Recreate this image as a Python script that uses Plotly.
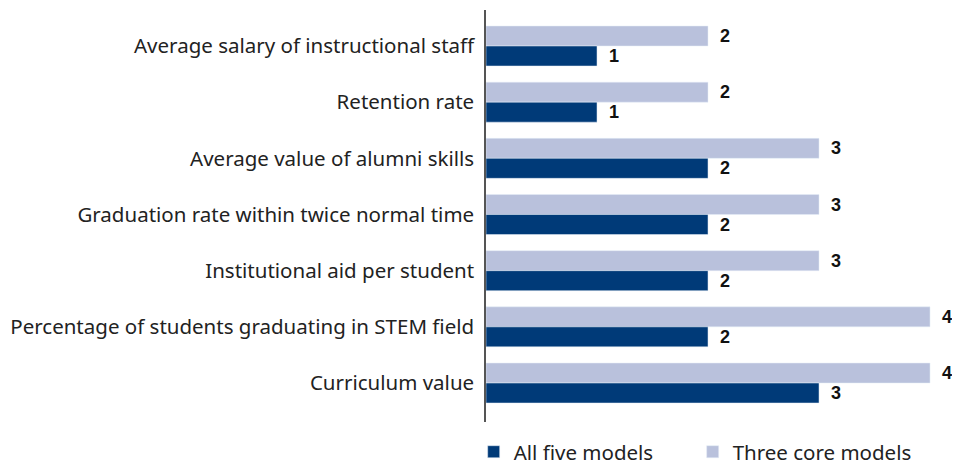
import plotly.graph_objects as go

categories = [
    "Average salary of instructional staff",
    "Retention rate",
    "Average value of alumni skills",
    "Graduation rate within twice normal time",
    "Institutional aid per student",
    "Percentage of students graduating in STEM field",
    "Curriculum value",
]
three_core = [2, 2, 3, 3, 3, 4, 4]
all_five = [1, 1, 2, 2, 2, 2, 3]

label_font = dict(family="Liberation Sans", size=18, color="#111111")

fig = go.Figure()

# light bars sit on top of each pair (axis is reversed)
fig.add_trace(go.Bar(
    y=categories, x=three_core, orientation="h", name="Three core models",
    marker_color="#B9C1DC", legendrank=2,
))
fig.add_trace(go.Bar(
    y=categories, x=all_five, orientation="h", name="All five models",
    marker_color="#003A78", legendrank=1,
))

# value labels next to the bar ends
for cat, v in zip(categories, three_core):
    fig.add_annotation(x=v, y=cat, text=f"<b>{v}</b>", showarrow=False,
                       xanchor="left", xshift=10, yshift=10, font=label_font)
for cat, v in zip(categories, all_five):
    fig.add_annotation(x=v, y=cat, text=f"<b>{v}</b>", showarrow=False,
                       xanchor="left", xshift=10, yshift=-10, font=label_font)

fig.update_layout(
    width=960, height=464,
    margin=dict(l=478, r=8, t=2, b=50, autoexpand=False),
    barmode="group", bargap=0.288, bargroupgap=0,
    plot_bgcolor="#FFFFFF", paper_bgcolor="#FFFFFF",
    font=dict(family="Noto Sans", size=20.5, color="#222222"),
    legend=dict(
        orientation="h", x=-0.026, xanchor="left", y=-0.024, yanchor="top",
        font=dict(family="Noto Sans", size=20.5, color="#222222"),
        itemwidth=30, entrywidth=174,
    ),
    showlegend=True,
)
fig.update_xaxes(range=[0, 4.27], visible=False, showgrid=False, zeroline=False)
fig.update_yaxes(
    categoryorder="array", categoryarray=categories,
    range=[6.694, -0.641], automargin=False,
    showline=True, linecolor="#555555", linewidth=1.5,
    showgrid=False, ticks="", ticklabelstandoff=6,
)

fig.write_html("out.html")
